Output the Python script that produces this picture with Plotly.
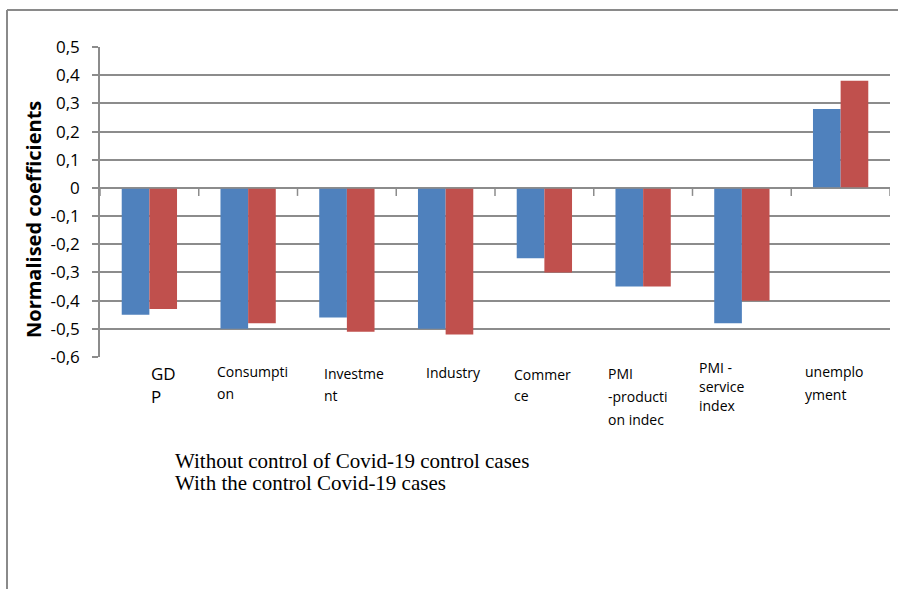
import plotly.graph_objects as go

# Categories (wrapped the same way as the category axis labels)
categories = ["GDP", "Consumption", "Investment", "Industry", "Commerce",
              "PMI -production indec", "PMI - service index", "unemployment"]
category_lines = [["GD", "P"], ["Consumpti", "on"], ["Investme", "nt"], ["Industry"],
                  ["Commer", "ce"], ["PMI", "-producti", "on indec"],
                  ["PMI -", "service", "index"], ["unemplo", "yment"]]

without_control = [-0.45, -0.50, -0.46, -0.50, -0.25, -0.35, -0.48, 0.28]
with_control = [-0.43, -0.48, -0.51, -0.52, -0.30, -0.35, -0.40, 0.38]

series_names = ["Without control of Covid-19 control cases",
                "With the control Covid-19 cases"]

y_tickvals = [0.5, 0.4, 0.3, 0.2, 0.1, 0, -0.1, -0.2, -0.3, -0.4, -0.5, -0.6]
y_ticktext = ["0,5", "0,4", "0,3", "0,2", "0,1", "0", "-0,1", "-0,2", "-0,3",
              "-0,4", "-0,5", "-0,6"]

W, H = 898, 589
L, R, T, B = 100, 8, 47, 232
pw, ph = W - L - R, H - T - B

BLUE = "#4F81BD"
RED = "#C0504D"
GRID = "#8c8c8c"

x_idx = list(range(len(categories)))

fig = go.Figure()
fig.add_trace(go.Bar(x=x_idx, y=without_control, name=series_names[0],
                     marker=dict(color=BLUE, line=dict(width=0))))
fig.add_trace(go.Bar(x=x_idx, y=with_control, name=series_names[1],
                     marker=dict(color=RED, line=dict(width=0))))

fig.update_layout(
    width=W, height=H,
    margin=dict(l=L, r=R, t=T, b=B, autoexpand=False),
    paper_bgcolor="white", plot_bgcolor="white",
    barmode="group", bargap=0.44, bargroupgap=0,
    showlegend=False,
    font=dict(family="Open Sans", color="black"),
)

fig.update_xaxes(range=[-0.5, len(categories) - 0.5], showticklabels=False,
                 showgrid=False, zeroline=False, showline=False, ticks="")
fig.update_yaxes(range=[-0.6, 0.5], tickvals=y_tickvals, ticktext=y_ticktext,
                 showgrid=True, gridcolor=GRID, gridwidth=1.5,
                 zeroline=False, showline=True, linecolor=GRID, linewidth=1.5,
                 ticks="outside", ticklen=6, tickcolor=GRID, tickwidth=1.5,
                 ticklabelstandoff=9,
                 tickfont=dict(family="Open Sans", size=17, color="black"))

# Category axis drawn along zero, with tick marks between categories
shapes = [dict(type="line", xref="x", yref="y", x0=-0.5, x1=len(categories) - 0.5,
               y0=0, y1=0, line=dict(color=GRID, width=1.5))]
for i in range(len(categories) + 1):
    shapes.append(dict(type="line", xref="x", yref="y", ysizemode="pixel", yanchor=0,
                       x0=i - 0.5, x1=i - 0.5, y0=0, y1=-8,
                       line=dict(color=GRID, width=1.5)))

# Outer frame (top and left edges)
def px_x(v):
    return (v - L) / pw

def px_y(v):
    return (H - B - v) / ph

shapes.append(dict(type="line", xref="paper", yref="paper",
                   x0=px_x(7), x1=px_x(898), y0=px_y(10), y1=px_y(10),
                   line=dict(color="#8a8a8a", width=2)))
shapes.append(dict(type="line", xref="paper", yref="paper",
                   x0=px_x(7), x1=px_x(7), y0=px_y(10), y1=px_y(589),
                   line=dict(color="#8a8a8a", width=2)))
fig.update_layout(shapes=shapes)

annotations = []
# Axis title
annotations.append(dict(text="<b>Normalised coefficients</b>", textangle=-90,
                        xref="paper", yref="paper", x=px_x(33), y=px_y(220),
                        xanchor="center", yanchor="middle",
                        showarrow=False, font=dict(family="Open Sans", size=20)))

# Category labels (left-aligned wrapped lines below the plot)
label_shift = [0, -33, -25, -22, -32, -37, -45, -38]
label_top = [373, 371, 373, 372, 374, 373, 367, 371]
label_step = [23, 22, 22, 22, 21, 23, 19, 23]
for i, lines in enumerate(category_lines):
    size = 17 if i == 0 else 14
    for j, line in enumerate(lines):
        annotations.append(dict(text=line, xref="x", yref="paper", x=i,
                                y=px_y(label_top[i] + j * label_step[i]),
                                xanchor="left", yanchor="middle",
                                xshift=label_shift[i], showarrow=False,
                                font=dict(family="Open Sans", size=size)))

# Series captions
for k, name in enumerate(series_names):
    annotations.append(dict(text=name, xref="paper", yref="paper",
                            x=px_x(173), y=px_y(461 + 22 * k),
                            xanchor="left", yanchor="middle", showarrow=False,
                            font=dict(family="Liberation Serif", size=21)))

fig.update_layout(annotations=annotations)

fig.write_html("out.html")
